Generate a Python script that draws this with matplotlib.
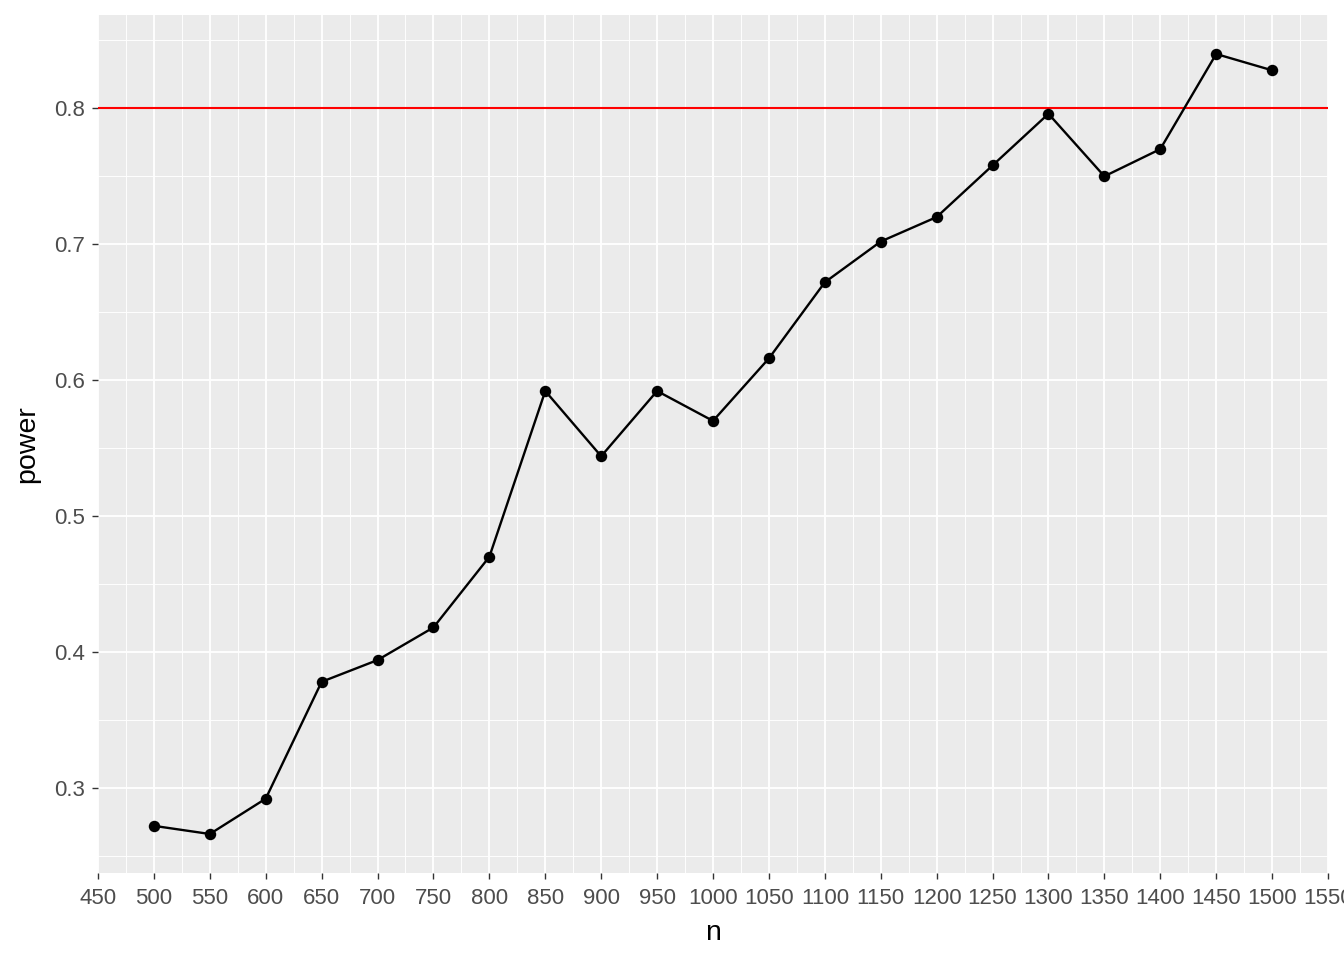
import matplotlib
matplotlib.use("Agg")
import matplotlib.pyplot as plt
from matplotlib.ticker import MultipleLocator

plt.rcParams['font.family'] = ['Liberation Sans', 'DejaVu Sans']

# sample sizes and estimated power
n = [500, 550, 600, 650, 700, 750, 800, 850, 900, 950, 1000,
     1050, 1100, 1150, 1200, 1250, 1300, 1350, 1400, 1450, 1500]
power = [0.272, 0.266, 0.292, 0.378, 0.394, 0.418, 0.470, 0.592, 0.544, 0.592, 0.570,
         0.616, 0.672, 0.702, 0.720, 0.758, 0.796, 0.750, 0.770, 0.840, 0.828]
target = 0.8

fig = plt.figure(figsize=(13.44, 9.6), dpi=100)
ax = fig.add_axes([98 / 1344, 87 / 960, 1230 / 1344, 858 / 960])
ax.set_facecolor('#EBEBEB')

# ggplot-like grid
ax.xaxis.set_major_locator(MultipleLocator(50))
ax.xaxis.set_minor_locator(MultipleLocator(25))
ax.yaxis.set_major_locator(MultipleLocator(0.1))
ax.yaxis.set_minor_locator(MultipleLocator(0.05))
ax.grid(which='major', color='white', linewidth=1.3)
ax.grid(which='minor', color='white', linewidth=0.65)
ax.set_axisbelow(True)
for s in ax.spines.values():
    s.set_visible(False)

ax.axhline(target, color='#FF0000', linewidth=1.5, zorder=2)
ax.plot(n, power, color='black', linewidth=1.7, zorder=3)
ax.scatter(n, power, color='black', s=68, zorder=4, linewidths=0)

span = max(power) - min(power)
ax.set_ylim(min(power) - 0.05 * span, max(power) + 0.05 * span)
ax.set_xlim(450, 1550)

ax.tick_params(which='major', length=4.5, width=1, color='#333333',
               labelcolor='#4D4D4D', labelsize=16)
ax.tick_params(axis='x', pad=6)
ax.tick_params(axis='y', pad=5)
ax.tick_params(which='minor', length=0)
ax.set_yticks([0.3, 0.4, 0.5, 0.6, 0.7, 0.8])
ax.set_yticklabels(['0.3', '0.4', '0.5', '0.6', '0.7', '0.8'])

ax.set_xlabel('n', fontsize=20.5, labelpad=8)
ax.set_ylabel('power', fontsize=20.5, labelpad=10)

fig.savefig('out.png', dpi=100)
